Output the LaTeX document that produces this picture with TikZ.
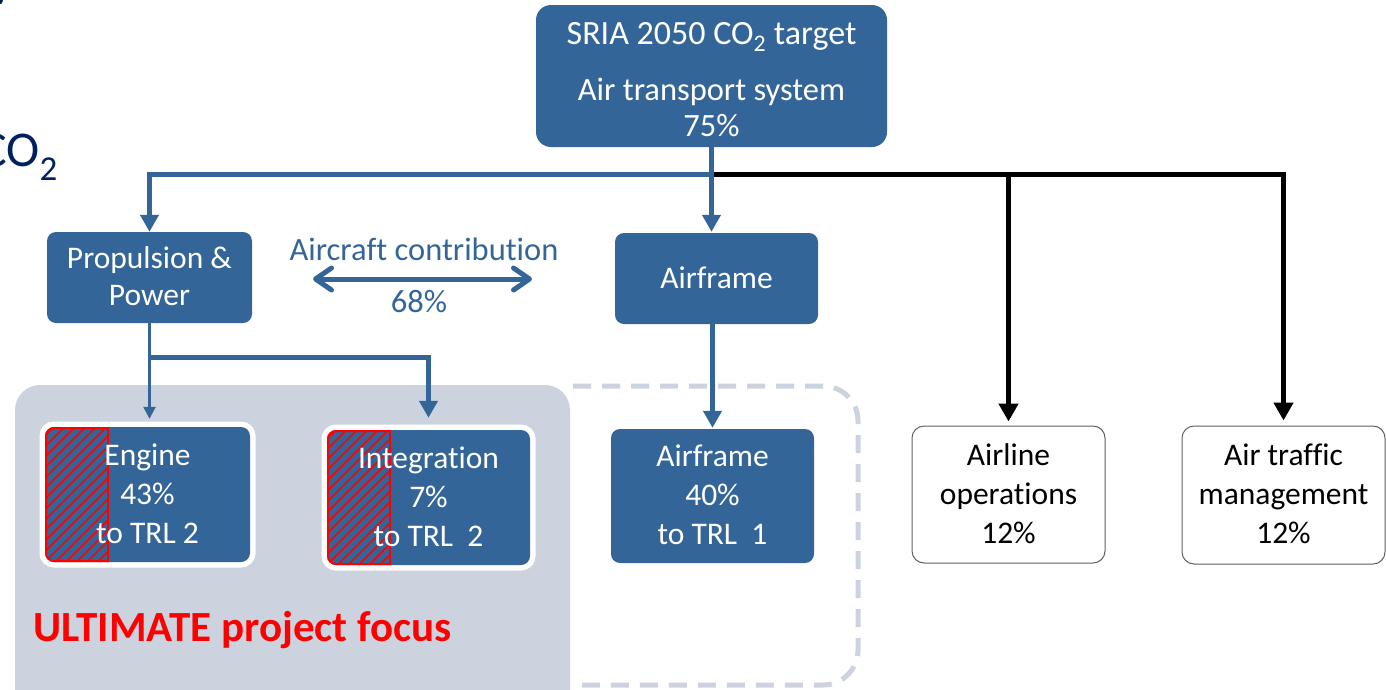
\documentclass[tikz,border=0pt]{standalone}
\usepackage{fontspec}
\setmainfont{Carlito}[Ligatures=NoCommon]
\usetikzlibrary{arrows.meta,calc}
\definecolor{boxblue}{RGB}{52,101,152}
\definecolor{focusgray}{RGB}{204,211,223}
\definecolor{navy}{RGB}{0,32,96}
\definecolor{edgegray}{RGB}{95,95,95}
% struts that centre a block of lines on its cap height
\newcommand\capstrut{\rule{0pt}{.93em}}
\newcommand\basestrut{\rule[-.3em]{0pt}{.3em}}
\tikzset{barbtip/.tip={Straight Barb[length=16pt,width=22pt,line cap=round,line join=round]}}

\begin{document}
\begin{tikzpicture}[x=1pt,y=-1pt,
  boxfont/.style={font=\fontsize{31.5}{39}\selectfont},
  bluebox/.style={fill=boxblue, rounded corners=9pt, text=white, align=center,
    inner sep=0pt, boxfont},
  plainbox/.style={draw=edgegray, line width=1pt, fill=white, rounded corners=12pt,
    align=center, inner sep=0pt, text=black, boxfont},
  ringed/.style={preaction={draw=white, line width=11pt}},
  hatched/.style={path picture={
    \begin{scope}
      \clip[sharp corners] (path picture bounding box.north west)
        rectangle ([xshift=64pt]path picture bounding box.south west);
      \foreach \k in {-15,...,7}
        \draw[red, line width=1.5pt]
          ([xshift=\k*10.5pt]path picture bounding box.south west) -- ++(170pt,170pt);
      \draw[red, line width=4pt]
        (path picture bounding box.south west) rectangle (path picture bounding box.north east);
      \draw[red, line width=2pt, sharp corners]
        ([xshift=63pt]path picture bounding box.south west)
        -- ([xshift=63pt]path picture bounding box.north west);
    \end{scope}}},
  blueline/.style={draw=boxblue, line width=5pt},
  bluearrow/.style={blueline, -{Triangle[length=17pt,width=18pt]}},
  thinarrow/.style={draw=boxblue, line width=2.5pt, -{Triangle[length=12pt,width=12pt]}},
  blackarrow/.style={draw=black, line width=5pt, -{Triangle[length=18pt,width=19pt]}},
  labeltext/.style={text=boxblue, font=\fontsize{32.5}{38}\selectfont, inner sep=0pt}
]
\useasboundingbox (0,0) rectangle (1386,689);

% slide text running in from the left
\node[text=navy, font=\fontsize{50}{60}\selectfont, anchor=base west, inner sep=0pt]
  (ytail) at (-8,-4) {y};
\node[text=navy, font=\fontsize{50}{60}\selectfont, anchor=base east, inner sep=0pt]
  (co2) at (58,166) {CO\textsubscript{2}};

% project-focus area and dashed airframe area
\draw[focusgray, line width=5pt, dash pattern=on 18pt off 11pt, rounded corners=35pt]
  (573,386) -- (858,386) -- (858,685) -- (573,685);
\fill[focusgray, rounded corners=25pt] (15,385) rectangle (570,740);
\node[text=red, font=\bfseries\fontsize{43}{50}\selectfont, anchor=west, inner sep=0pt]
  (focus) at (33,630) {ULTIMATE project focus};

% boxes
\node[bluebox, rounded corners=15pt, minimum width=351pt, minimum height=142pt,
  font=\fontsize{32.5}{36}\selectfont] (top) at (711.5,76)
  {{\fontsize{34}{36}\selectfont\rule{0pt}{30pt}SRIA 2050 CO\textsubscript{2} target}\\[20pt]Air transport system\\75\%};
\node[bluebox, minimum width=205pt, minimum height=91pt,
  font=\fontsize{31.5}{37}\selectfont] (prop) at (149.5,277.5)
  {\capstrut Propulsion \&\\Power\basestrut};
\node[bluebox, minimum width=203pt, minimum height=91pt] (afr) at (716.5,278.5)
  {\capstrut\basestrut Airframe};
\node[bluebox, ringed, hatched, minimum width=205pt, minimum height=135pt] (eng) at (147.5,494.5)
  {\capstrut Engine\\43\%\\to TRL 2\basestrut};
\node[bluebox, ringed, hatched, minimum width=203pt, minimum height=135pt] (integ) at (428.5,497.5)
  {\capstrut Integration\\7\%\\to TRL~~2\basestrut};
\node[bluebox, minimum width=203pt, minimum height=134pt] (afr2) at (712.5,496)
  {\capstrut Airframe\\40\%\\to TRL~~1\basestrut};
\node[plainbox, minimum width=193pt, minimum height=137pt] (aline) at (1008.5,494.5)
  {\capstrut Airline\\operations\\12\%\basestrut};
\node[plainbox, minimum width=203pt, minimum height=138pt] (atm) at (1283.5,495)
  {\capstrut Air traffic\\management\\12\%\basestrut};

% aircraft contribution
\node[labeltext] (ac) at (424,249) {Aircraft contribution};
\node[labeltext] (pct) at (419,302) {68\%};
\coordinate (acl) at (313,279);
\coordinate (acr) at (532,279);
\draw[blueline, barbtip-barbtip] (acl) -- (acr);

% connectors
\coordinate (split) at (712,174);
\draw[blackarrow, shorten >=4pt] (split) -| (aline.north);
\draw[blackarrow, shorten >=5pt] (split) -| (atm.north);
\draw[bluearrow] (split) -| (prop.north);
\draw[bluearrow, shorten >=1pt] (top.south) -- (top.south |- afr.north);
\draw[bluearrow, shorten >=1pt] (afr2.north |- afr.south) -- (afr2.north);
\coordinate (fork) at (prop.south |- 0,357);
\draw[thinarrow, shorten >=8pt] (prop.south) -- (prop.south |- eng.north);
\draw[bluearrow, shorten >=12pt] (fork) -| (integ.north);
\end{tikzpicture}
\end{document}
